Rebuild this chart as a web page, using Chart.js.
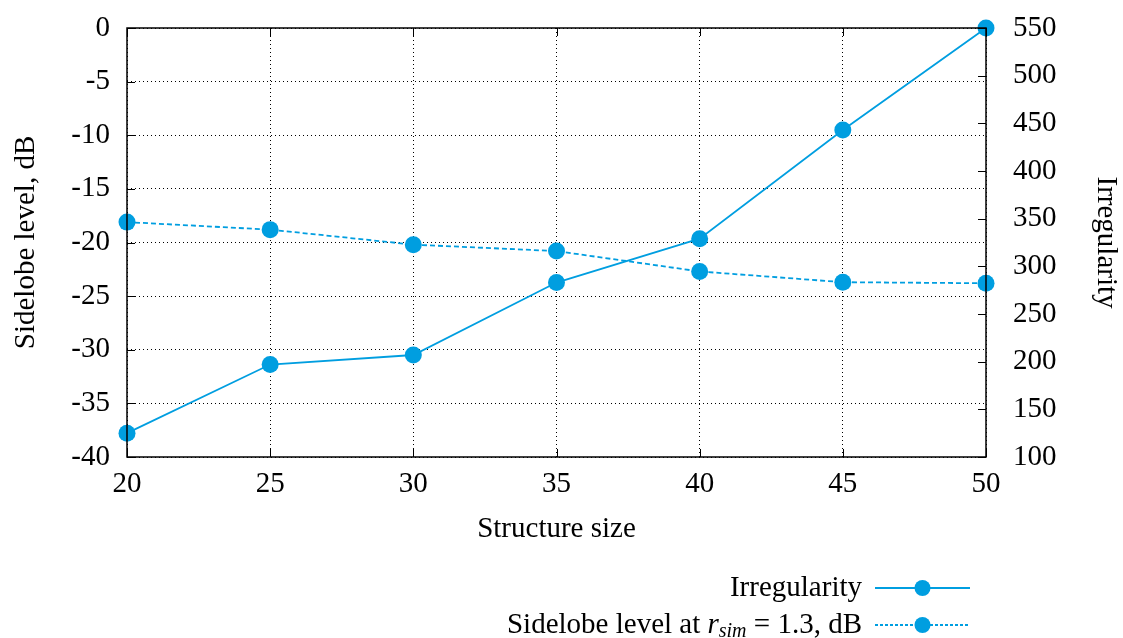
<!DOCTYPE html>
<html lang="en">
  <head>
    <meta charset="UTF-8" />
    <title>Irregularity and sidelobe level vs structure size</title>
    <script src="https://cdn.jsdelivr.net/npm/chart.js"></script>
    <style>
      html, body {
        margin: 0;
        padding: 0;
        background: #fff;
      }
      #wrap {
        width: 1123px;
        height: 638px;
      }
    </style>
  </head>
  <body>
    <div id="wrap"><canvas id="chartCanvas"></canvas></div>

    <script>
      const structureSize = [20, 25, 30, 35, 40, 45, 50];
      const irregularity = [125, 197, 207, 283, 329, 443, 550];
      const sidelobeLevel = [-18.1, -18.8, -20.2, -20.8, -22.7, -23.7, -23.8];

      const color = "#009ee0";
      const fontFamily = "'Liberation Serif', 'DejaVu Serif', serif";
      const fontSize = 29;

      // frame + inward tick marks, gnuplot style
      const framePlugin = {
        id: "frame",
        afterDatasetsDraw(chart) {
          const { ctx, chartArea: a, scales } = chart;
          ctx.save();
          ctx.strokeStyle = "#000";
          ctx.lineWidth = 1;
          ctx.beginPath();
          scales.y.ticks.forEach((t) => {
            const py = Math.round(scales.y.getPixelForValue(t.value)) + 0.5;
            ctx.moveTo(a.left, py);
            ctx.lineTo(a.left + 8, py);
          });
          scales.y1.ticks.forEach((t) => {
            const py = Math.round(scales.y1.getPixelForValue(t.value)) + 0.5;
            ctx.moveTo(a.right, py);
            ctx.lineTo(a.right - 8, py);
          });
          scales.x.ticks.forEach((t) => {
            const px = Math.round(scales.x.getPixelForValue(t.value)) + 0.5;
            ctx.moveTo(px, a.bottom);
            ctx.lineTo(px, a.bottom - 8);
            ctx.moveTo(px, a.top);
            ctx.lineTo(px, a.top + 8);
          });
          ctx.stroke();
          ctx.lineWidth = 1.5;
          ctx.strokeRect(a.left, a.top, a.right - a.left, a.bottom - a.top);
          ctx.restore();
        },
      };

      // legend below the plot: text right-aligned, sample line to the right
      const legendPlugin = {
        id: "sideLegend",
        afterDraw(chart) {
          const { ctx } = chart;
          const textRight = 862;
          const lineX0 = 875;
          const lineX1 = 970;
          const rows = [
            { y: 588, dash: [] },
            { y: 625, dash: [3, 2] },
          ];
          ctx.save();
          ctx.fillStyle = "#000";
          ctx.textBaseline = "middle";
          ctx.textAlign = "left";

          // row 1
          ctx.font = `${fontSize}px ${fontFamily}`;
          const t1 = chart.data.datasets[0].label;
          ctx.fillText(t1, textRight - ctx.measureText(t1).width, rows[0].y);

          // row 2: Sidelobe level at r_sim = 1.3, dB
          const parts = [
            { s: "Sidelobe level at ", f: `${fontSize}px ${fontFamily}`, dy: 0 },
            { s: "r", f: `italic ${fontSize}px ${fontFamily}`, dy: 0 },
            { s: "sim", f: `italic ${Math.round(fontSize * 0.7)}px ${fontFamily}`, dy: 7 },
            { s: " = 1.3, dB", f: `${fontSize}px ${fontFamily}`, dy: 0 },
          ];
          let total = 0;
          parts.forEach((p) => {
            ctx.font = p.f;
            p.w = ctx.measureText(p.s).width;
            total += p.w;
          });
          let x = textRight - total;
          parts.forEach((p) => {
            ctx.font = p.f;
            ctx.fillText(p.s, x, rows[1].y + p.dy);
            x += p.w;
          });

          rows.forEach((r) => {
            ctx.strokeStyle = color;
            ctx.lineWidth = 1.8;
            ctx.setLineDash(r.dash);
            ctx.beginPath();
            ctx.moveTo(lineX0, r.y);
            ctx.lineTo(lineX1, r.y);
            ctx.stroke();
            ctx.setLineDash([]);
            ctx.fillStyle = color;
            ctx.beginPath();
            ctx.arc((lineX0 + lineX1) / 2, r.y, 8, 0, Math.PI * 2);
            ctx.fill();
          });
          ctx.restore();
        },
      };

      const ctx = document.getElementById("chartCanvas").getContext("2d");
      const chart = new Chart(ctx, {
        type: "line",
        data: {
          datasets: [
            {
              label: "Irregularity",
              data: structureSize.map((s, i) => ({ x: s, y: irregularity[i] })),
              yAxisID: "y1",
              borderColor: color,
              backgroundColor: color,
              borderWidth: 1.8,
              pointRadius: 8.5,
              pointHoverRadius: 8.5,
              pointBorderWidth: 0,
              tension: 0,
              clip: false,
            },
            {
              label: "Sidelobe level at r_sim = 1.3, dB",
              data: structureSize.map((s, i) => ({ x: s, y: sidelobeLevel[i] })),
              yAxisID: "y",
              borderColor: color,
              backgroundColor: color,
              borderWidth: 1.8,
              borderDash: [5, 3],
              pointRadius: 8.5,
              pointHoverRadius: 8.5,
              pointBorderWidth: 0,
              tension: 0,
              clip: false,
            },
          ],
        },
        options: {
          responsive: true,
          maintainAspectRatio: false,
          animation: false,
          layout: { padding: { top: 28, left: 0, right: 0, bottom: 91 } },
          plugins: {
            legend: { display: false },
            tooltip: { enabled: false },
          },
          scales: {
            x: {
              type: "linear",
              min: 20,
              max: 50,
              ticks: {
                stepSize: 5,
                color: "#000",
                padding: 10,
                font: { family: fontFamily, size: fontSize },
              },
              grid: {
                color: "#000",
                lineWidth: 1,
                drawTicks: false,
              },
              border: { display: false, dash: [1, 3] },
              title: {
                display: true,
                text: "Structure size",
                color: "#000",
                font: { family: fontFamily, size: fontSize },
                padding: { top: 0, bottom: 0 },
              },
              afterFit(scale) {
                scale.height = 90;
                scale.paddingLeft = 0;
                scale.paddingRight = 0;
              },
            },
            y: {
              position: "left",
              min: -40,
              max: 0,
              ticks: {
                stepSize: 5,
                color: "#000",
                padding: 17,
                font: { family: fontFamily, size: fontSize },
              },
              grid: {
                color: "#000",
                lineWidth: 1,
                drawTicks: false,
              },
              border: { display: false, dash: [1, 3] },
              title: {
                display: true,
                text: "Sidelobe level, dB",
                color: "#000",
                font: { family: fontFamily, size: fontSize },
                padding: { top: 9, bottom: 0 },
              },
              afterFit(scale) {
                scale.width = 127;
                scale.paddingTop = 0;
                scale.paddingBottom = 0;
              },
            },
            y1: {
              position: "right",
              min: 100,
              max: 550,
              ticks: {
                stepSize: 50,
                color: "#000",
                padding: 27,
                font: { family: fontFamily, size: fontSize },
              },
              grid: { display: false, drawTicks: false },
              border: { display: false },
              title: {
                display: true,
                text: "Irregularity",
                color: "#000",
                font: { family: fontFamily, size: fontSize },
                padding: { top: 0, bottom: 0 },
              },
              afterFit(scale) {
                scale.width = 137;
                scale.paddingTop = 0;
                scale.paddingBottom = 0;
              },
            },
          },
        },
        plugins: [framePlugin, legendPlugin],
      });
    </script>
  </body>
</html>
